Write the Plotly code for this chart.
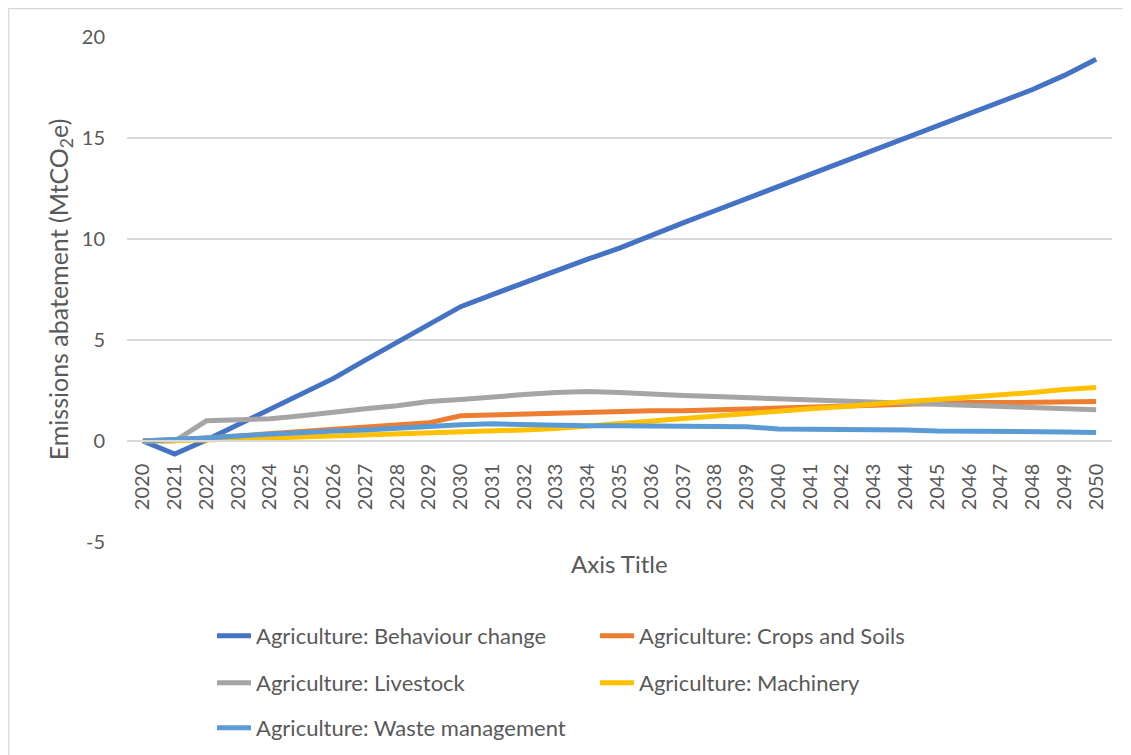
import plotly.graph_objects as go

years = [str(y) for y in range(2020, 2051)]

behaviour = [0, -0.65, 0.05, 0.8, 1.55, 2.3, 3.1, 4.0, 4.9, 5.8, 6.65,
             7.25, 7.85, 8.4, 9.0, 9.55, 10.2, 10.8, 11.4, 12.0, 12.6,
             13.15, 13.8, 14.4, 15.0, 15.6, 16.2, 16.8, 17.4, 18.1, 18.9]
crops = [0, 0.05, 0.15, 0.25, 0.35, 0.45, 0.55, 0.65, 0.75, 0.9, 1.25,
         1.3, 1.35, 1.4, 1.45, 1.45, 1.5, 1.5, 1.55, 1.6, 1.65,
         1.7, 1.7, 1.75, 1.85, 1.9, 1.9, 1.9, 1.9, 1.95, 1.95]
livestock = [0, 0, 1.0, 1.05, 1.1, 1.25, 1.45, 1.6, 1.75, 1.95, 2.05,
             2.2, 2.3, 2.4, 2.45, 2.4, 2.3, 2.25, 2.2, 2.15, 2.1,
             2.05, 2.0, 1.9, 1.85, 1.85, 1.8, 1.75, 1.7, 1.6, 1.55]
machinery = [0, 0, 0.05, 0.1, 0.15, 0.2, 0.25, 0.3, 0.35, 0.4, 0.42,
             0.45, 0.55, 0.62, 0.75, 0.88, 1.0, 1.1, 1.25, 1.35, 1.5,
             1.6, 1.7, 1.85, 1.95, 2.05, 2.15, 2.3, 2.4, 2.55, 2.65]
waste = [0, 0.05, 0.15, 0.25, 0.35, 0.45, 0.5, 0.55, 0.65, 0.7, 0.8,
         0.85, 0.8, 0.8, 0.75, 0.75, 0.75, 0.7, 0.7, 0.7, 0.6,
         0.6, 0.55, 0.55, 0.55, 0.5, 0.5, 0.5, 0.45, 0.45, 0.42]

series_names = ["Agriculture: Behaviour change", "Agriculture: Crops and Soils",
                "Agriculture: Livestock", "Agriculture: Machinery",
                "Agriculture: Waste management"]
series_values = [behaviour, crops, livestock, machinery, waste]
colors = ["#4472C4", "#ED7D31", "#A5A5A5", "#FFC000", "#5B9BD5"]
legend_rows = ["legend", "legend", "legend2", "legend2", "legend3"]

y_ticks = [-5, 0, 5, 10, 15, 20]
y_ticktext = [str(v) for v in y_ticks]

FONT = "Lato"
TXT = "#595959"
GRID = "#D9D9D9"

fig = go.Figure()
for name, vals, col, lg in zip(series_names, series_values, colors, legend_rows):
    fig.add_trace(go.Scatter(x=years, y=vals, name=name, mode="lines",
                             line=dict(color=col, width=5), legend=lg))

legend_common = dict(orientation="h", x=0.0863, xanchor="left", yanchor="top",
                     entrywidth=334, entrywidthmode="pixels",
                     font=dict(family=FONT, size=22, color=TXT),
                     itemwidth=34, bgcolor="rgba(0,0,0,0)")

fig.update_layout(
    width=1123, height=755,
    margin=dict(l=119, r=19, t=29, b=221),
    paper_bgcolor="white", plot_bgcolor="white",
    font=dict(family=FONT, color=TXT, size=20),
    showlegend=True,
    legend=dict(legend_common, y=-0.1446),
    legend2=dict(legend_common, y=-0.2376),
    legend3=dict(legend_common, y=-0.3267),
    xaxis=dict(type="category", range=[-0.5, 30.5], showgrid=False,
               anchor="free", position=0.2, showline=True, linecolor=GRID, linewidth=1.5,
               tickangle=-90, ticks="", ticklabelstandoff=14,
               tickfont=dict(family=FONT, size=20, color=TXT)),
    yaxis=dict(range=[-5, 20], tickvals=y_ticks, ticktext=y_ticktext,
               showgrid=True, gridcolor=GRID, gridwidth=1.5,
               zeroline=False, showline=False, ticks="", ticklabelstandoff=21,
               tickfont=dict(family=FONT, size=20, color=TXT),
               title=dict(text="Emissions abatement (MtCO<sub>2</sub>e)",
                          font=dict(family=FONT, size=25, color=TXT), standoff=6)),
)

fig.add_annotation(text="Axis Title", xref="paper", yref="paper", x=0.5, y=-0.0416,
                   xanchor="center", yanchor="middle", showarrow=False,
                   font=dict(family=FONT, size=24, color=TXT))

fig.add_shape(type="rect", xref="paper", yref="paper",
              x0=-0.1203, x1=1.03, y0=-0.46, y1=1.0564,
              line=dict(color="#D9D9D9", width=1.5), fillcolor="rgba(0,0,0,0)", layer="below")

fig.write_html("out.html")
